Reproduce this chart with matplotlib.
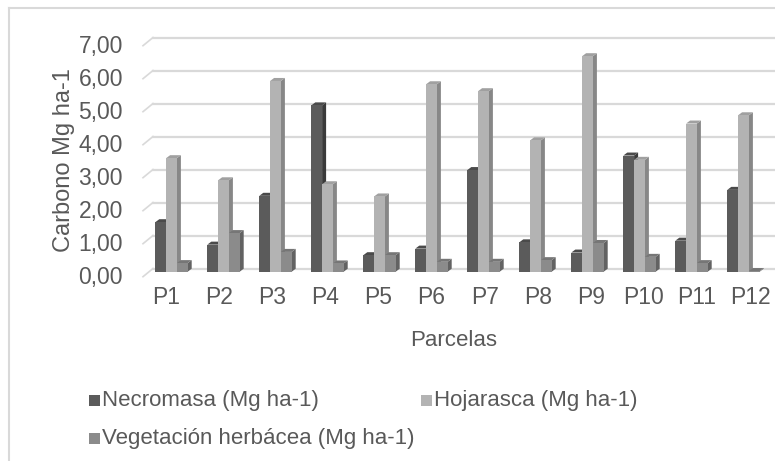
import matplotlib
matplotlib.use("Agg")
import matplotlib.pyplot as plt
from matplotlib.patches import Polygon, Rectangle
from matplotlib.lines import Line2D
import matplotlib.transforms as mtrans
import numpy as np

# ---- data ----
parcelas = ["P1", "P2", "P3", "P4", "P5", "P6", "P7", "P8", "P9", "P10", "P11", "P12"]
necromasa = [1.50, 0.82, 2.30, 5.04, 0.50, 0.70, 3.08, 0.89, 0.58, 3.52, 0.94, 2.48]
hojarasca = [3.44, 2.77, 5.78, 2.65, 2.28, 5.68, 5.47, 3.98, 6.53, 3.39, 4.49, 4.74]
vegetacion = [0.26, 1.17, 0.60, 0.25, 0.50, 0.30, 0.30, 0.35, 0.87, 0.45, 0.26, 0.02]
series_names = ["Necromasa (Mg ha-1)", "Hojarasca (Mg ha-1)", "Vegetación herbácea (Mg ha-1)"]
yticks = [0, 1, 2, 3, 4, 5, 6, 7]
ytick_labels = ["0,00", "1,00", "2,00", "3,00", "4,00", "5,00", "6,00", "7,00"]

# ---- style ----
plt.rcParams["font.family"] = ["Liberation Sans", "DejaVu Sans"]
TXT = "#595959"
FS_TICK = 16.5
FS_TITLE = 17
FS_LEG = 16
GRID = "#d9d9d9"
faces = [  # front, side, top
    ("#5b5b5b", "#3a3a3a", "#4a4a4a"),
    ("#b3b3b3", "#878787", "#a0a0a0"),
    ("#8b8b8b", "#626262", "#767676"),
]
W, H = 775, 461
DPI = 100
fig = plt.figure(figsize=(W / DPI, H / DPI), dpi=DPI)

# outer chart border
fig.add_artist(Line2D([9 / W, 9 / W], [0, 1 - 8 / H], color=GRID, lw=1.5))
fig.add_artist(Line2D([9 / W, 1], [1 - 8 / H, 1 - 8 / H], color=GRID, lw=1.5))

# plot area (pixel geometry of the bar plane)
ax_left, ax_right = 143, 775
y_zero, px_per_unit = 271.7, 33.0
x_first, px_per_group = 171.5, 52.0
ax = fig.add_axes([ax_left / W, (H - y_zero) / H, (ax_right - ax_left) / W,
                   7.0 * px_per_unit / H])
ax.set_xlim((ax_left - x_first) / px_per_group, (ax_right - x_first) / px_per_group)
ax.set_ylim(0, 7.0)
ax.axis("off")


def px_off(dx, dy):
    """Shift by dx pixels right and dy pixels down."""
    return mtrans.ScaledTranslation(dx / DPI, -dy / DPI, fig.dpi_scale_trans)


# back-wall gridlines plus the short floor diagonal on the left
x_back0 = (153 - x_first) / px_per_group
x_front0 = (143 - x_first) / px_per_group
inv = ax.transData.inverted()
for v in yticks:
    ax.plot([x_back0, ax.get_xlim()[1] + 1], [v, v], color=GRID, lw=1.6,
            transform=ax.transData + px_off(0, -3.2), zorder=0, clip_on=False)
    p0 = ax.transData.transform((x_front0, v)) + np.array([0, -5.0])
    p1 = ax.transData.transform((x_back0, v)) + np.array([0, 3.2])
    q0, q1 = inv.transform(p0), inv.transform(p1)
    ax.plot([q0[0], q1[0]], [q0[1], q1[1]], color=GRID, lw=1.2, zorder=0, clip_on=False)

# y tick labels
for v, lab in zip(yticks, ytick_labels):
    ax.text(x_front0, v, lab, transform=ax.transData + px_off(-20, 6),
            ha="right", va="center", fontsize=FS_TICK, color=TXT)

# 3-D looking clustered columns
bw = 10.8 / px_per_group
ddx = 4.0 / px_per_group
ddy = 3.0 / px_per_unit
x = np.arange(len(parcelas))
for s, vals in enumerate([necromasa, hojarasca, vegetacion]):
    front, side, top = faces[s]
    x0 = x - 1.5 * bw + s * bw
    ax.bar(x0, vals, width=bw, align="edge", color=front, zorder=2 + s * 0.1, lw=0)
    for xi, h in zip(x0, vals):
        xr = xi + bw
        ax.add_patch(Polygon([(xr, 0), (xr, h), (xr + ddx, h + ddy), (xr + ddx, ddy)],
                             closed=True, fc=side, ec="none", zorder=1.95 + s * 0.1))
        ax.add_patch(Polygon([(xi, h), (xr, h), (xr + ddx, h + ddy), (xi + ddx, h + ddy)],
                             closed=True, fc=top, ec="none", zorder=1.95 + s * 0.1))

# category labels
for i, lab in enumerate(parcelas):
    lx = (166 + 53.1 * i - x_first) / px_per_group
    ax.text(lx, 0, lab, transform=ax.transData + px_off(0, 26), ha="center", va="center",
            fontsize=FS_TICK, color=TXT)

fig.text(454 / W, 1 - 340 / H, "Parcelas", ha="center", va="center", fontsize=FS_LEG, color=TXT)
fig.text(64 / W, 1 - 160 / H, "Carbono Mg ha-1", ha="center", va="center", rotation=90,
         fontsize=FS_TITLE, color=TXT)

# legend
leg_items = [(89, 400, 0), (421, 400, 1), (89, 438, 2)]
for lx, ly, s in leg_items:
    fig.add_artist(Rectangle((lx / W, 1 - (ly + 5.5) / H), 11 / W, 11 / H,
                             transform=fig.transFigure, fc=faces[s][0], ec="none"))
    fig.text((lx + 13) / W, 1 - ly / H, series_names[s], ha="left", va="center",
             fontsize=FS_LEG, color=TXT)

fig.savefig("out.png", dpi=DPI, facecolor="white")
